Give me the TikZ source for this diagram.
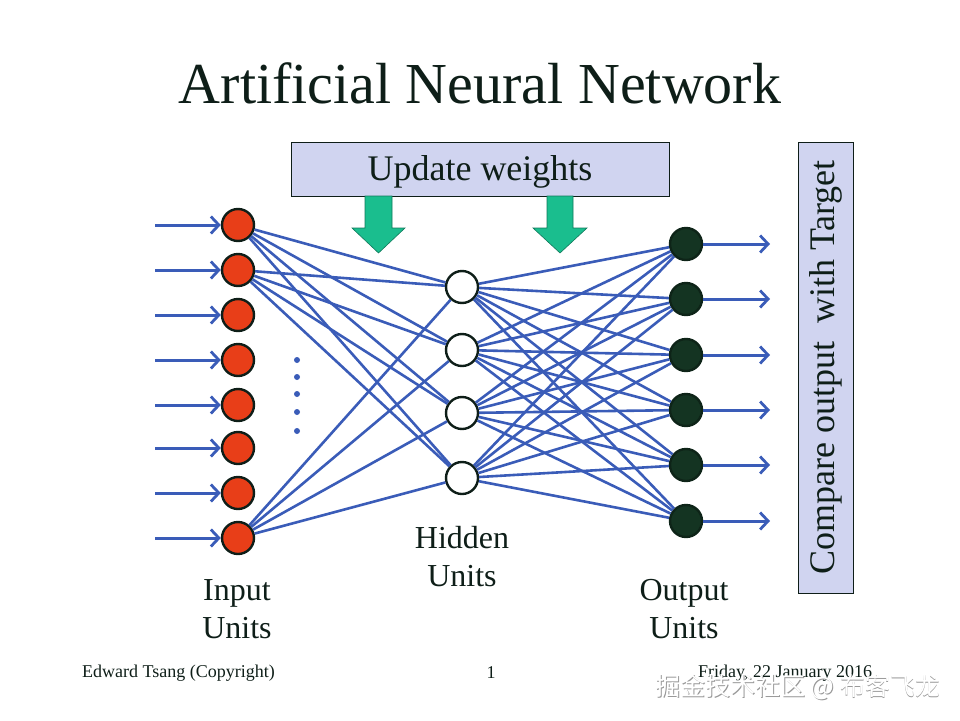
\documentclass[tikz,border=0pt]{standalone}
\usepackage{fontspec}
\setmainfont{Liberation Serif}
\newfontfamily\cjk{Noto Sans CJK SC}
\usetikzlibrary{arrows.meta}
\definecolor{wire}{RGB}{58,92,184}
\definecolor{inred}{RGB}{232,62,24}
\definecolor{outgreen}{RGB}{20,52,34}
\definecolor{boxfill}{RGB}{208,212,240}
\definecolor{arrgreen}{RGB}{26,190,142}
\definecolor{arrline}{RGB}{16,120,90}
\definecolor{ink}{RGB}{14,30,24}
\begin{document}
\begin{tikzpicture}[x=1pt,y=-1pt,
  unit/.style={circle,draw=ink,line width=2.4pt,minimum size=32pt,inner sep=0pt},
  inunit/.style={unit,fill=inred},
  hidunit/.style={unit,fill=white},
  outunit/.style={unit,fill=outgreen,draw=outgreen!70!black},
  wireline/.style={draw=wire,line width=2.6pt},
  sigarrow/.style={draw=wire,line width=3pt,-{Straight Barb[length=8pt,width=17pt,line width=2.8pt]}},
  infobox/.style={draw=ink,line width=1pt,fill=boxfill,inner sep=0pt,text=ink,font=\fontsize{36}{40}\selectfont},
  boxtext/.style={text=ink,font=\fontsize{36}{40}\selectfont,inner sep=0pt},
  garrow/.style={fill=arrgreen,draw=arrline,line width=0.6pt},
  lbl/.style={align=center,text=ink,font=\fontsize{32}{38}\selectfont},
  foot/.style={text=ink,font=\fontsize{18}{20}\selectfont,inner sep=0pt}]
\useasboundingbox (0,0) rectangle (960,720);

% title
\node[text=ink,font=\fontsize{58}{64}\selectfont] (title) at (480,83) {Artificial Neural Network};

% boxes
\node[infobox,minimum width=378,minimum height=54] (upd) at (480,169) {};
\node[boxtext] (updtext) at (480,172) {Update weights};
\node[infobox,rotate=90,minimum width=451,minimum height=55] (cmp) at (825.5,367.5) {Compare output\ \ with Target};

% green arrows
\draw[garrow] (365,196) -- (392,196) -- (392,228) -- (405,228) -- (378.5,253) -- (352,228) -- (365,228) -- cycle;
\draw[garrow] (547,196) -- (573,196) -- (573,228) -- (587,228) -- (560,253) -- (533,228) -- (547,228) -- cycle;

% input units
\foreach \y [count=\i] in {225,270,315,360,405,448,493,538} {
  \node[inunit] (i\i) at (238,\y) {};
  \coordinate (s\i) at (155,\y);
  \draw[sigarrow] (s\i) -- (i\i);
}
% hidden units
\foreach \y [count=\i] in {287,350,413,478} {
  \node[hidunit] (h\i) at (462,\y) {};
}
% output units
\foreach \y [count=\i] in {244,299,355,410,465,521} {
  \node[outunit] (o\i) at (686,\y) {};
  \coordinate (e\i) at (770,\y);
  \draw[sigarrow] (o\i) -- (e\i);
}

% input -> hidden
\foreach \a in {1,2,8} {
  \foreach \b in {1,2,3,4} {
    \draw[wireline] (i\a) -- (h\b);
  }
}
% hidden -> output
\foreach \a in {1,2,3,4} {
  \foreach \b in {1,...,6} {
    \draw[wireline] (h\a) -- (o\b);
  }
}

% dots
\foreach \y [count=\k] in {360,377,394,412,431} {
  \fill[wire] (297,\y) circle (3pt);
}

% labels
\node[lbl] (lin) at (237,609) {Input\\Units};
\node[lbl] (lhid) at (462,557) {Hidden\\Units};
\node[lbl] (lout) at (684,609) {Output\\Units};

% footer
\node[foot,anchor=west] (fa) at (82,673) {Edward Tsang (Copyright)};
\node[foot] (fn) at (491,673) {1};
\node[foot,anchor=west] (fd) at (698,673) {Friday, 22 January 2016};

% watermark
\node[text=gray!80,font=\cjk\fontsize{25}{28}\selectfont,anchor=west,inner sep=0pt] (wm0) at (655.8,687.8) {掘金技术社区 @ 布客飞龙};
\node[text=white,font=\cjk\fontsize{25}{28}\selectfont,anchor=west,inner sep=0pt] (wm) at (655,687) {掘金技术社区 @ 布客飞龙};
\end{tikzpicture}
\end{document}
